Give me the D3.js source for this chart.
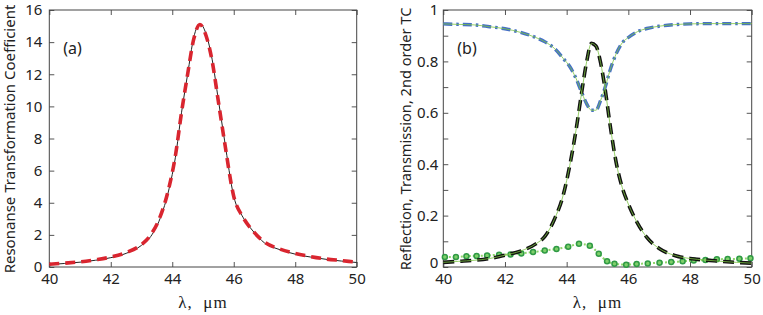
<!DOCTYPE html>
<html>
<head>
<meta charset="utf-8">
<script src="https://cdn.jsdelivr.net/npm/d3@7"></script>
<style>
body { margin: 0; background: #fff; }
text { font-family: "Noto Sans", "Open Sans", sans-serif; fill: #222; }
.xlab { font-family: "Liberation Serif", "DejaVu Serif", serif; }
</style>
</head>
<body>
<div id="svg-container"></div>
<script>
// panel (a): resonance transformation coefficient
var lamA = [40, 40.5, 41, 41.5, 42, 42.5, 43, 43.3, 43.6, 43.9, 44.1, 44.3, 44.5, 44.7, 44.9, 45.1, 45.3, 45.5, 45.7, 46, 46.3, 46.6, 47, 47.5, 48, 48.5, 49, 49.5, 50];
var rtc = [0.15, 0.22, 0.3, 0.42, 0.58, 0.85, 1.35, 1.9, 3.0, 4.9, 6.8, 9.6, 12.0, 14.3, 15.15, 14.5, 12.9, 10.4, 7.9, 4.4, 3.1, 2.3, 1.5, 1.08, 0.8, 0.62, 0.48, 0.37, 0.28];
var rtcFit = [0.17, 0.24, 0.32, 0.45, 0.62, 0.9, 1.4, 2.0, 3.1, 5.0, 6.9, 9.6, 12.0, 14.2, 15.1, 14.4, 12.8, 10.3, 7.8, 4.4, 3.1, 2.3, 1.55, 1.12, 0.84, 0.65, 0.5, 0.4, 0.3];

// panel (b): reflection, transmission
var lamB = [40, 40.5, 41, 41.5, 42, 42.5, 43, 43.3, 43.6, 43.9, 44.1, 44.3, 44.5, 44.65, 44.8, 44.95, 45.1, 45.25, 45.4, 45.6, 45.8, 46, 46.3, 46.6, 47, 47.5, 48, 48.5, 49, 49.5, 50];
var trans = [0.946, 0.944, 0.942, 0.935, 0.927, 0.913, 0.893, 0.876, 0.851, 0.81, 0.78, 0.735, 0.675, 0.635, 0.61, 0.61, 0.648, 0.7, 0.763, 0.828, 0.872, 0.893, 0.916, 0.928, 0.937, 0.943, 0.946, 0.947, 0.947, 0.947, 0.947];
var refl = [0.018, 0.022, 0.026, 0.033, 0.046, 0.062, 0.09, 0.12, 0.185, 0.285, 0.395, 0.53, 0.69, 0.8, 0.87, 0.86, 0.795, 0.69, 0.56, 0.41, 0.31, 0.245, 0.17, 0.115, 0.072, 0.045, 0.033, 0.027, 0.022, 0.018, 0.015];

// 2nd order TC (markers)
var lamTc = [40.05, 40.41, 40.75, 41.08, 41.42, 41.81, 42.18, 42.53, 42.91, 43.29, 43.67, 44.05, 44.4, 44.75, 45.04, 45.31, 45.55, 45.93, 46.27, 46.63, 47.01, 47.39, 47.76, 48.12, 48.5, 48.87, 49.22, 49.6, 49.96];
var tc2 = [0.039, 0.039, 0.042, 0.043, 0.045, 0.048, 0.049, 0.053, 0.058, 0.064, 0.07, 0.079, 0.09, 0.083, 0.052, 0.022, 0.013, 0.009, 0.012, 0.014, 0.017, 0.019, 0.022, 0.025, 0.027, 0.03, 0.031, 0.032, 0.034];

var xTicks = [40, 42, 44, 46, 48, 50];
var yTicksA = [0, 2, 4, 6, 8, 10, 12, 14, 16];
var yTicksB = [0, 0.1, 0.2, 0.3, 0.4, 0.5, 0.6, 0.7, 0.8, 0.9, 1];

var svg = d3.select("#svg-container").append("svg")
    .attr("width", 763)
    .attr("height", 315);

function panel(x0, x1, yMax, yTicks, yFmt, ylabel, ylabX, ylabSize, tag, lblPad) {
    var x = d3.scaleLinear().domain([40, 50]).range([x0, x1]);
    var y = d3.scaleLinear().domain([0, yMax]).range([267, 10]);
    var g = svg.append("g");

    g.append("g").attr("class", "xax").attr("transform", "translate(0,267)")
        .call(d3.axisBottom(x).tickValues(xTicks).tickSizeInner(-5).tickSizeOuter(0).tickPadding(6).tickFormat(d3.format("d")));
    g.append("g").attr("transform", "translate(0,10)")
        .call(d3.axisTop(x).tickValues(xTicks).tickSizeInner(-5).tickSizeOuter(0).tickFormat(""));
    g.append("g").attr("class", "yax").attr("transform", "translate(" + x0 + ",0)")
        .call(d3.axisLeft(y).tickValues(yTicks).tickSizeInner(-5).tickSizeOuter(0).tickPadding(lblPad).tickFormat(yFmt));
    g.append("g").attr("transform", "translate(" + x1 + ",0)")
        .call(d3.axisRight(y).tickValues(yTicks).tickSizeInner(-5).tickSizeOuter(0).tickFormat(""));

    g.selectAll(".domain").remove();
    g.selectAll(".tick line").attr("stroke", "#555");
    g.selectAll(".tick text").style("font-size", "15px").attr("fill", "#222");

    g.append("rect")
        .attr("x", x0).attr("y", 10)
        .attr("width", x1 - x0).attr("height", 257)
        .attr("fill", "none").attr("stroke", "#444").attr("stroke-width", 1);

    g.append("text")
        .attr("transform", "translate(" + ylabX + "," + 139 + ") rotate(-90)")
        .attr("text-anchor", "middle")
        .style("font-size", ylabSize + "px")
        .text(ylabel);

    g.append("text")
        .attr("class", "xlab")
        .attr("x", (x0 + x1) / 2).attr("y", 308)
        .attr("text-anchor", "middle")
        .style("font-size", "17px")
        .style("letter-spacing", "1px")
        .attr("xml:space", "preserve")
        .text("\u03bb,  \u03bcm");

    g.append("text")
        .attr("x", x0 + 14).attr("y", 54)
        .style("font-size", "16px")
        .text(tag);

    return {x: x, y: y, g: g};
}

// ---- (a)
var pa = panel(49.3, 356.7, 16, yTicksA, d3.format("d"), "Resonanse Transformation Coefficient", 15, 15, "(a)", 7);
var lineA = d3.line()
    .x(function(d, i) { return pa.x(lamA[i]); })
    .y(function(d) { return pa.y(d); })
    .curve(d3.curveMonotoneX);

pa.g.append("path").datum(rtc)
    .attr("d", lineA)
    .attr("fill", "none").attr("stroke", "#222").attr("stroke-width", 1);
pa.g.append("path").datum(rtcFit)
    .attr("d", lineA)
    .attr("fill", "none").attr("stroke", "#d9252f").attr("stroke-width", 3.6)
    .attr("stroke-dasharray", "10,6");

// ---- (b)
var pb = panel(443.3, 751.7, 1, yTicksB, function(d) { return Math.round(d * 10) % 2 ? "" : String(+d.toFixed(1)); },
    "Reflection, Transmission, 2nd order TC", 411, 14.6, "(b)", 5);
// nudge the "0" up a bit so it clears the "40" below it
pb.g.selectAll(".yax .tick text").filter(function(d) { return d === 0; }).attr("dy", "0em");
var lineB = d3.line()
    .x(function(d, i) { return pb.x(lamB[i]); })
    .y(function(d) { return pb.y(d); })
    .curve(d3.curveMonotoneX);
var lineTc = d3.line()
    .x(function(d, i) { return pb.x(lamTc[i]); })
    .y(function(d) { return pb.y(d); })
    .curve(d3.curveMonotoneX);

// 2nd order TC: dotted light green with circles
pb.g.append("path").datum(tc2)
    .attr("d", lineTc)
    .attr("fill", "none").attr("stroke", "#8fd66a").attr("stroke-width", 2)
    .attr("stroke-dasharray", "2,2");
pb.g.selectAll(".mk")
    .data(tc2)
    .enter().append("circle")
    .attr("class", "mk")
    .attr("cx", function(d, i) { return pb.x(lamTc[i]); })
    .attr("cy", function(d) { return pb.y(d); })
    .attr("r", 2.5)
    .attr("fill", "#7fcf6a").attr("stroke", "#2f9a45").attr("stroke-width", 1.5);

// transmission: blue dash-dot
pb.g.append("path").datum(trans)
    .attr("d", lineB)
    .attr("fill", "none").attr("stroke", "#4670c6").attr("stroke-width", 3.4)
    .attr("stroke-dasharray", "9,4,2.5,4");
// reflection: black dashed
pb.g.append("path").datum(refl)
    .attr("d", lineB)
    .attr("fill", "none").attr("stroke", "#111").attr("stroke-width", 3.6)
    .attr("stroke-dasharray", "11,6");
// thin green reference lines on top
pb.g.append("path").datum(trans)
    .attr("d", lineB)
    .attr("fill", "none").attr("stroke", "#7cc444").attr("stroke-width", 0.8);
pb.g.append("path").datum(refl)
    .attr("d", lineB)
    .attr("fill", "none").attr("stroke", "#7cc444").attr("stroke-width", 0.8);
</script>
</body>
</html>
